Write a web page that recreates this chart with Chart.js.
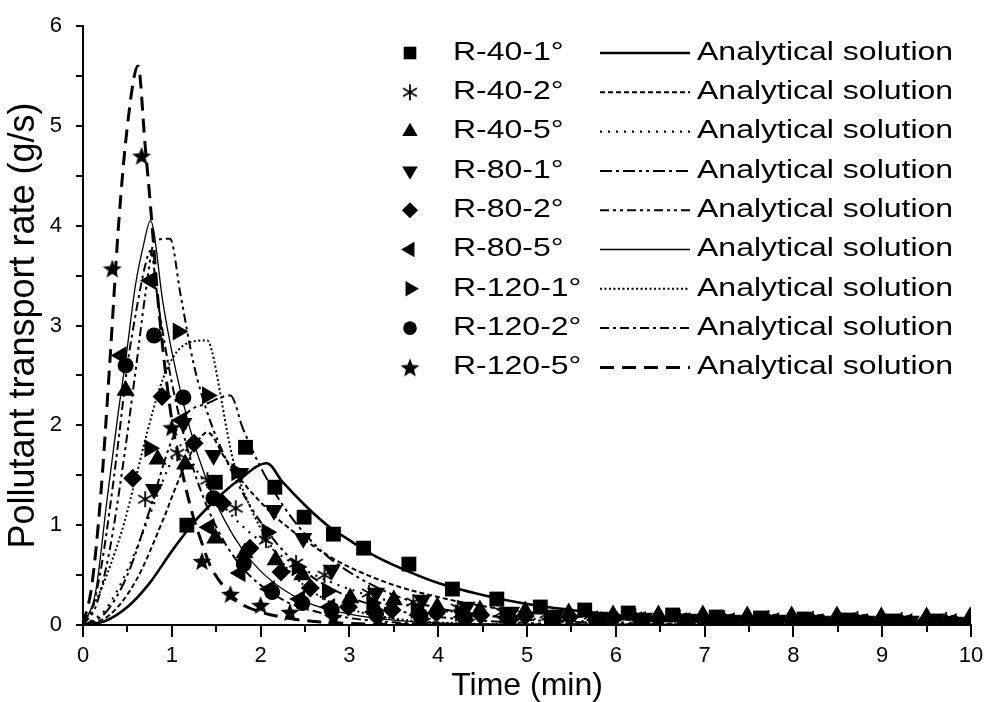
<!DOCTYPE html>
<html>
<head>
<meta charset="utf-8">
<title>Pollutant transport rate</title>
<script src="https://cdn.jsdelivr.net/npm/chart.js@4.4.1/dist/chart.umd.min.js"></script>
<style>
  html, body { margin: 0; padding: 0; background: #fff; }
  #wrap { width: 987px; height: 702px; }
</style>
</head>
<body>
<div id="wrap"><canvas id="chart" width="987" height="702"></canvas></div>
<script>
// ── Measured data (markers) ─────────────────────────────────────────────
const t_R40_1 = [1.17, 1.49, 1.83, 2.16, 2.49, 2.82, 3.16, 3.67, 4.16, 4.66, 5.15, 5.65, 6.14, 6.64, 7.13, 7.63, 8.12, 8.62, 9.11, 9.61];
const v_R40_1 = [1.00, 1.43, 1.78, 1.38, 1.08, 0.91, 0.77, 0.61, 0.36, 0.26, 0.18, 0.15, 0.12, 0.10, 0.08, 0.07, 0.06, 0.05, 0.04, 0.04];

const t_R40_2 = [0.70, 1.06, 1.40, 1.72, 2.06, 2.40, 2.72, 3.22, 3.72, 4.22, 4.72, 5.22, 5.72, 6.22, 6.72, 7.22, 7.72, 8.22, 8.72, 9.22, 9.72];
const v_R40_2 = [1.26, 1.72, 1.45, 1.17, 0.85, 0.62, 0.50, 0.32, 0.23, 0.17, 0.13, 0.11, 0.10, 0.09, 0.08, 0.07, 0.07, 0.06, 0.06, 0.05, 0.05];

const t_R40_5 = [0.48, 0.84, 1.15, 1.49, 1.82, 2.17, 2.47, 3.01, 3.50, 3.99, 4.47, 4.98, 5.47, 5.97, 6.48, 6.98, 7.48, 7.98, 8.49, 8.99, 9.50, 9.99];
const v_R40_5 = [2.35, 1.66, 1.61, 0.87, 0.72, 0.65, 0.50, 0.27, 0.25, 0.18, 0.15, 0.14, 0.12, 0.10, 0.10, 0.10, 0.09, 0.09, 0.09, 0.08, 0.08, 0.08];

const t_R80_1 = [0.80, 1.13, 1.47, 1.77, 2.15, 2.48, 2.80, 3.30, 3.82, 4.32, 4.82, 5.32, 5.82, 6.32, 6.82, 7.32, 7.82, 8.32, 8.82, 9.32, 9.82];
const v_R80_1 = [1.36, 2.02, 1.70, 1.52, 1.15, 0.87, 0.55, 0.32, 0.25, 0.18, 0.13, 0.10, 0.08, 0.07, 0.06, 0.05, 0.05, 0.04, 0.04, 0.04, 0.03];

const t_R80_2 = [0.56, 0.89, 1.25, 1.57, 1.88, 2.23, 2.56, 2.99, 3.48, 3.98, 4.48, 4.98, 5.48, 5.98, 6.48, 6.98, 7.48, 7.98, 8.48, 8.98, 9.48, 9.98];
const v_R80_2 = [1.47, 2.29, 1.82, 1.22, 0.77, 0.53, 0.37, 0.18, 0.15, 0.12, 0.10, 0.09, 0.08, 0.07, 0.06, 0.05, 0.05, 0.04, 0.04, 0.04, 0.03, 0.03];

const t_R80_5 = [0.43, 0.76, 1.11, 1.42, 1.77, 2.10, 2.44, 2.78, 3.28, 3.78, 4.28, 4.78, 5.28, 5.78, 6.28, 6.78, 7.28, 7.78, 8.28, 8.78, 9.28, 9.78];
const v_R80_5 = [2.70, 3.45, 2.05, 0.98, 0.52, 0.36, 0.26, 0.18, 0.13, 0.10, 0.08, 0.07, 0.06, 0.05, 0.05, 0.04, 0.04, 0.04, 0.03, 0.03, 0.03, 0.03];

const t_R120_1 = [0.75, 1.07, 1.40, 1.73, 2.07, 2.41, 2.75, 3.25, 3.75, 4.25, 4.75, 5.25, 5.75, 6.25, 6.75, 7.25, 7.75, 8.25, 8.75, 9.25, 9.75];
const v_R120_1 = [1.77, 2.94, 2.30, 1.53, 0.93, 0.58, 0.34, 0.22, 0.15, 0.12, 0.10, 0.08, 0.07, 0.06, 0.05, 0.05, 0.04, 0.04, 0.04, 0.03, 0.03];

const t_R120_2 = [0.48, 0.80, 1.13, 1.47, 1.81, 2.13, 2.47, 2.80, 3.30, 3.80, 4.30, 4.80, 5.30, 5.80, 6.30, 6.80, 7.30, 7.80, 8.30, 8.80, 9.30, 9.80];
const v_R120_2 = [2.60, 2.90, 2.28, 1.27, 0.61, 0.33, 0.22, 0.15, 0.11, 0.09, 0.07, 0.06, 0.05, 0.05, 0.04, 0.04, 0.03, 0.03, 0.03, 0.03, 0.02, 0.02];

const t_R120_5 = [0.33, 0.66, 1.00, 1.34, 1.66, 2.00, 2.33, 2.82, 3.32, 3.82, 4.32, 4.82, 5.32, 5.82, 6.32, 6.82, 7.32, 7.82, 8.32, 8.82, 9.32, 9.82];
const v_R120_5 = [3.57, 4.70, 1.98, 0.64, 0.31, 0.20, 0.13, 0.08, 0.06, 0.05, 0.04, 0.04, 0.03, 0.03, 0.03, 0.02, 0.02, 0.02, 0.02, 0.02, 0.02, 0.02];

// ── Analytical solutions (curves) ───────────────────────────────────────
const ct_R40_1 = [0, 0.25, 0.5, 0.75, 1.0, 1.25, 1.5, 1.75, 2.07, 2.25, 2.5, 2.75, 3.0, 3.25, 3.5, 4.0, 4.5, 5.0, 5.5, 6.0, 6.5, 7.0, 7.5, 8.0, 8.5, 9.0, 9.5, 10.0];
const cv_R40_1 = [0, 0.04, 0.18, 0.42, 0.74, 1.03, 1.26, 1.45, 1.62, 1.43, 1.20, 1.00, 0.85, 0.71, 0.60, 0.42, 0.30, 0.21, 0.15, 0.10, 0.073, 0.052, 0.036, 0.026, 0.018, 0.013, 0.009, 0.006];

const ct_R40_2 = [0, 0.3, 0.6, 0.9, 1.1, 1.3, 1.4, 1.6, 1.8, 2.0, 2.25, 2.5, 2.75, 3.0, 3.5, 4.0, 4.5, 5.0, 6.0, 7.0, 8.0, 10.0];
const cv_R40_2 = [0, 0.10, 0.45, 1.05, 1.50, 1.85, 1.93, 1.67, 1.43, 1.23, 1.02, 0.85, 0.70, 0.58, 0.40, 0.28, 0.19, 0.13, 0.06, 0.03, 0.014, 0.003];

const ct_R40_5 = [0, 0.25, 0.5, 0.75, 0.95, 1.1, 1.3, 1.5, 1.75, 2.0, 2.5, 3.0, 3.5, 4.0, 5.0, 6.0, 7.0, 8.0, 10.0];
const cv_R40_5 = [0, 0.15, 0.55, 1.10, 1.55, 1.80, 1.52, 1.28, 1.03, 0.84, 0.55, 0.36, 0.23, 0.15, 0.066, 0.028, 0.012, 0.005, 0.001];

const ct_R80_1 = [0, 0.25, 0.5, 0.75, 1.0, 1.17, 1.4, 1.66, 1.8, 2.0, 2.25, 2.5, 2.75, 3.0, 3.5, 4.0, 4.5, 5.0, 6.0, 7.0, 8.0, 10.0];
const cv_R80_1 = [0, 0.12, 0.50, 1.15, 1.85, 2.12, 2.22, 2.30, 1.97, 1.58, 1.20, 0.91, 0.69, 0.53, 0.30, 0.17, 0.10, 0.053, 0.018, 0.006, 0.002, 0];

const ct_R80_2 = [0, 0.15, 0.3, 0.45, 0.6, 0.7, 0.81, 0.98, 1.1, 1.25, 1.43, 1.6, 1.8, 2.0, 2.3, 2.6, 3.0, 3.5, 4.0, 5.0, 6.0, 8.0, 10.0];
const cv_R80_2 = [0, 0.20, 0.75, 1.60, 2.60, 3.30, 3.85, 3.87, 3.30, 2.60, 2.05, 1.68, 1.32, 1.03, 0.70, 0.47, 0.28, 0.15, 0.08, 0.02, 0.005, 0.001, 0];

const ct_R80_5 = [0, 0.14, 0.27, 0.4, 0.48, 0.59, 0.68, 0.76, 0.9, 1.0, 1.2, 1.4, 1.6, 1.8, 2.0, 2.3, 2.6, 3.0, 3.5, 4.0, 5.0, 6.0, 8.0, 10.0];
const cv_R80_5 = [0, 0.32, 1.25, 2.15, 2.65, 3.40, 3.80, 4.05, 3.23, 2.74, 1.98, 1.43, 1.04, 0.75, 0.54, 0.33, 0.20, 0.11, 0.048, 0.021, 0.004, 0.001, 0, 0];

const ct_R120_1 = [0, 0.2, 0.44, 0.56, 0.72, 0.87, 1.02, 1.17, 1.4, 1.45, 1.55, 1.62, 1.7, 1.85, 2.0, 2.2, 2.4, 2.7, 3.0, 3.5, 4.0, 5.0, 6.0, 8.0, 10.0];
const cv_R120_1 = [0, 0.35, 0.95, 1.35, 1.92, 2.39, 2.69, 2.82, 2.85, 2.75, 2.30, 1.95, 1.62, 1.25, 0.97, 0.68, 0.47, 0.27, 0.16, 0.065, 0.026, 0.004, 0.001, 0, 0];

const ct_R120_2 = [0, 0.1, 0.2, 0.3, 0.4, 0.5, 0.6, 0.7, 0.76, 0.85, 1.0, 1.2, 1.4, 1.6, 1.8, 2.0, 2.3, 2.6, 3.0, 3.5, 4.0, 5.0, 6.0, 8.0, 10.0];
const cv_R120_2 = [0, 0.15, 0.55, 1.15, 1.85, 2.60, 3.15, 3.60, 3.75, 3.20, 2.43, 1.69, 1.18, 0.82, 0.57, 0.40, 0.23, 0.14, 0.07, 0.027, 0.01, 0.002, 0, 0, 0];

const ct_R120_5 = [0, 0.1, 0.2, 0.3, 0.4, 0.5, 0.62, 0.7, 0.76, 0.85, 1.0, 1.1, 1.23, 1.32, 1.43, 1.58, 1.77, 2.0, 2.3, 2.6, 3.0, 3.5, 4.0, 5.0, 6.0, 8.0, 10.0];
const cv_R120_5 = [0, 0.40, 1.30, 2.60, 4.00, 5.00, 5.60, 4.80, 4.20, 3.20, 2.05, 1.60, 1.12, 0.87, 0.60, 0.39, 0.22, 0.13, 0.07, 0.035, 0.015, 0.005, 0.002, 0, 0, 0, 0];

const seriesLabels = ['R-40-1°', 'R-40-2°', 'R-40-5°', 'R-80-1°', 'R-80-2°', 'R-80-5°', 'R-120-1°', 'R-120-2°', 'R-120-5°'];
const curveLabel = 'Analytical solution';
const xTitle = 'Time (min)';
const yTitle = 'Pollutant transport rate (g/s)';

// ── Marker images that Chart.js has no built-in style for ───────────────
function makeStar(r) {
  const s = Math.ceil(r * 2 + 2);
  const c = document.createElement('canvas');
  c.width = s; c.height = s;
  const g = c.getContext('2d');
  g.translate(s / 2, s / 2 + r * 0.1);
  g.beginPath();
  for (let i = 0; i < 10; i++) {
    const rr = i % 2 ? r * 0.42 : r;
    const a = -Math.PI / 2 + i * Math.PI / 5;
    g.lineTo(Math.cos(a) * rr, Math.sin(a) * rr);
  }
  g.closePath();
  g.fillStyle = '#000';
  g.fill();
  return c;
}

function makeAsterisk(r) {
  const s = Math.ceil(r * 2 + 2);
  const c = document.createElement('canvas');
  c.width = s; c.height = s;
  const g = c.getContext('2d');
  g.translate(s / 2, s / 2);
  g.strokeStyle = '#000';
  g.lineWidth = 1.8;
  g.beginPath();
  [90, 30, 150].forEach(d => {
    const a = d * Math.PI / 180;
    g.moveTo(-Math.cos(a) * r, -Math.sin(a) * r);
    g.lineTo(Math.cos(a) * r, Math.sin(a) * r);
  });
  g.stroke();
  return c;
}

const STAR = makeStar(10);
const ASTERISK = makeAsterisk(8);

// ── Styles: marker + line per series ────────────────────────────────────
const SERIES = [
  { t: t_R40_1,  v: v_R40_1,  ct: ct_R40_1,  cv: cv_R40_1,  mk: { style: 'rect', r: 10.5 },                ln: { w: 2.6, dash: [] } },
  { t: t_R40_2,  v: v_R40_2,  ct: ct_R40_2,  cv: cv_R40_2,  mk: { style: ASTERISK, r: 8 },                 ln: { w: 2, dash: [5, 3] } },
  { t: t_R40_5,  v: v_R40_5,  ct: ct_R40_5,  cv: cv_R40_5,  mk: { style: 'triangle', r: 10.5 },            ln: { w: 2.2, dash: [2, 6] } },
  { t: t_R80_1,  v: v_R80_1,  ct: ct_R80_1,  cv: cv_R80_1,  mk: { style: 'triangle', r: 10.5, rot: 180 },  ln: { w: 2, dash: [12, 4, 3, 4, 12, 4, 3, 4, 3, 4] } },
  { t: t_R80_2,  v: v_R80_2,  ct: ct_R80_2,  cv: cv_R80_2,  mk: { style: 'rectRot', r: 9.5 },              ln: { w: 2, dash: [9, 4, 3, 4, 3, 4] } },
  { t: t_R80_5,  v: v_R80_5,  ct: ct_R80_5,  cv: cv_R80_5,  mk: { style: 'triangle', r: 10.5, rot: 270 },  ln: { w: 1.3, dash: [] } },
  { t: t_R120_1, v: v_R120_1, ct: ct_R120_1, cv: cv_R120_1, mk: { style: 'triangle', r: 10.5, rot: 90 },   ln: { w: 2, dash: [2, 2.5] } },
  { t: t_R120_2, v: v_R120_2, ct: ct_R120_2, cv: cv_R120_2, mk: { style: 'circle', r: 8 },                 ln: { w: 2, dash: [9, 4, 3, 4] } },
  { t: t_R120_5, v: v_R120_5, ct: ct_R120_5, cv: cv_R120_5, mk: { style: STAR, r: 10 },                    ln: { w: 3, dash: [14, 8] } }
];

const FONT = "'Liberation Sans', Arial, Helvetica, sans-serif";
Chart.defaults.font.family = FONT;
Chart.defaults.color = '#000';

const markerSets = SERIES.map((s, i) => ({
  label: seriesLabels[i],
  data: s.t.map((x, k) => ({ x, y: s.v[k] })),
  showLine: false,
  pointStyle: s.mk.style,
  pointRotation: s.mk.rot || 0,
  pointRadius: s.mk.r,
  pointBackgroundColor: '#000',
  pointBorderColor: '#000',
  pointBorderWidth: 0
}));

const lineSets = SERIES.map((s, i) => ({
  label: seriesLabels[i] + ' ' + curveLabel,
  data: s.ct.map((x, k) => ({ x, y: s.cv[k] })),
  showLine: true,
  pointRadius: 0,
  borderColor: '#000',
  borderWidth: s.ln.w,
  borderDash: s.ln.dash,
  borderCapStyle: 'butt',
  cubicInterpolationMode: 'monotone',
  fill: false
}));

// ── Axis tick marks (outward, major/minor) ──────────────────────────────
const tickMarks = {
  id: 'tickMarks',
  afterDraw(chart) {
    const { ctx, chartArea: a, scales: { x, y } } = chart;
    ctx.save();
    ctx.strokeStyle = '#000';
    ctx.lineWidth = 2;
    ctx.beginPath();
    for (let k = 0; k <= 20; k++) {
      const px = Math.round(x.getPixelForValue(k / 2));
      ctx.moveTo(px, a.bottom);
      ctx.lineTo(px, a.bottom + (k % 2 ? 7 : 12));
    }
    for (let k = 0; k <= 12; k++) {
      const py = Math.round(y.getPixelForValue(k / 2));
      ctx.moveTo(a.left, py);
      ctx.lineTo(a.left - 7, py);
    }
    ctx.stroke();
    ctx.restore();
  }
};

// ── Two-column legend: markers | line samples ───────────────────────────
const LEG = { markX: 410, labelX: 453, lineX0: 600, lineX1: 690, textX: 697, y0: 53, dy: 39.3, stretch: 1.28 };

const twoColumnLegend = {
  id: 'twoColumnLegend',
  afterDraw(chart) {
    const ctx = chart.ctx;
    ctx.save();
    ctx.fillStyle = '#000';
    ctx.strokeStyle = '#000';
    ctx.font = '25px ' + FONT;
    ctx.textBaseline = 'middle';
    ctx.textAlign = 'left';
    SERIES.forEach((s, i) => {
      const y = LEG.y0 + i * LEG.dy;
      Chart.helpers.drawPoint(ctx, {
        pointStyle: s.mk.style, rotation: s.mk.rot || 0, radius: s.mk.r * 0.85, borderWidth: 0
      }, LEG.markX, y);

      ctx.save();
      ctx.lineWidth = s.ln.w;
      ctx.setLineDash(s.ln.dash);
      ctx.beginPath();
      ctx.moveTo(LEG.lineX0, y);
      ctx.lineTo(LEG.lineX1, y);
      ctx.stroke();
      ctx.restore();

      [[seriesLabels[i], LEG.labelX], [curveLabel, LEG.textX]].forEach(([txt, tx]) => {
        ctx.save();
        ctx.translate(tx, y);
        ctx.scale(LEG.stretch, 1);
        ctx.fillText(txt, 0, 0);
        ctx.restore();
      });
    });
    ctx.restore();
  }
};

new Chart(document.getElementById('chart'), {
  type: 'scatter',
  data: { datasets: [...markerSets, ...lineSets] },
  options: {
    responsive: false,
    animation: false,
    layout: { padding: { top: 26, right: 16, left: 0, bottom: 0 } },
    plugins: { legend: { display: false }, tooltip: { enabled: false } },
    scales: {
      x: {
        type: 'linear', min: 0, max: 10,
        afterFit: s => { s.height = 77; s.paddingLeft = 0; s.paddingRight = 0; },
        grid: { display: false, drawTicks: false },
        border: { display: true, color: '#000', width: 2 },
        ticks: { stepSize: 1, padding: 18, color: '#000', font: { size: 22 } },
        title: { display: true, text: xTitle, color: '#000', font: { size: 32, lineHeight: 1 }, padding: { top: 0, bottom: 0 } }
      },
      y: {
        type: 'linear', min: 0, max: 6,
        afterFit: s => { s.width = 83; s.paddingTop = 0; s.paddingBottom = 0; },
        grid: { display: false, drawTicks: false },
        border: { display: true, color: '#000', width: 2 },
        ticks: { stepSize: 1, padding: 21, color: '#000', font: { size: 22 } },
        title: { display: true, text: yTitle, color: '#000', font: { size: 36 }, padding: { top: 2, bottom: 0 } }
      }
    }
  },
  plugins: [tickMarks, twoColumnLegend]
});
</script>
</body>
</html>
